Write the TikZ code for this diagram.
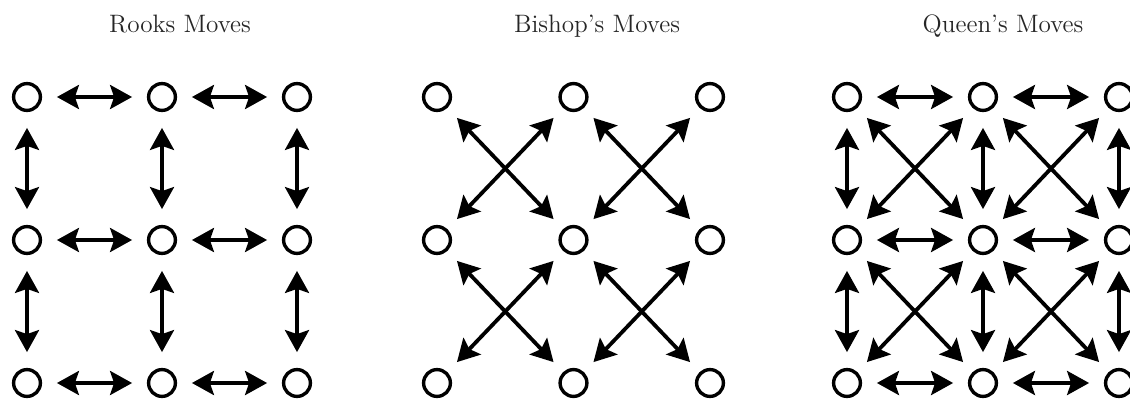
\documentclass[tikz,border=0pt]{standalone}
\usepackage{tikz}
\usetikzlibrary{arrows.meta}

\begin{document}
\begin{tikzpicture}[
  x=0.5pt, y=-0.5pt,
  spot/.style={circle, draw, line width=1.7pt, minimum size=13.4pt, inner sep=0pt},
  move/.style={{Stealth[length=11pt, width=12pt, inset=2pt]}-{Stealth[length=11pt, width=12pt, inset=2pt]}, line width=1.9pt},
  hmove/.style={move, shorten <=7.4pt, shorten >=7.4pt},
  vmove/.style={move, shorten <=7.9pt, shorten >=7.9pt},
  dmove/.style={move, shorten <=6.9pt, shorten >=6.9pt},
  heading/.style={font=\fontsize{12.6}{15}\selectfont, text=black!85, anchor=base}
]
\clip (0,0) rectangle (1130,401);

\node[heading] (rooktitle) at (180,33) {Rooks Moves};
\node[heading] (bishoptitle) at (597,33) {Bishop's Moves};
\node[heading] (queentitle) at (1003,33) {Queen's Moves};

% board squares, 3x3 per piece
\foreach \p/\x/\d in {rook/27/135, bishop/437/136.5, queen/847/136}
  \foreach \i in {0,1,2}
    \foreach \j in {0,1,2}
      \node[spot] (\p\i\j) at ({\x+\d*\i}, {97+143*\j}) {};

% straight moves
\foreach \p in {rook,queen}
  \foreach \a/\b in {0/1,1/2}
    \foreach \j in {0,1,2} {
      \draw[hmove] (\p\a\j) -- (\p\b\j);
      \draw[vmove] (\p\j\a) -- (\p\j\b);
    }

% diagonal moves
\foreach \p in {bishop,queen}
  \foreach \a/\b in {0/1,1/2}
    \foreach \c/\e in {0/1,1/2} {
      \draw[dmove] (\p\a\c) -- (\p\b\e);
      \draw[dmove] (\p\b\c) -- (\p\a\e);
    }

\end{tikzpicture}
\end{document}
